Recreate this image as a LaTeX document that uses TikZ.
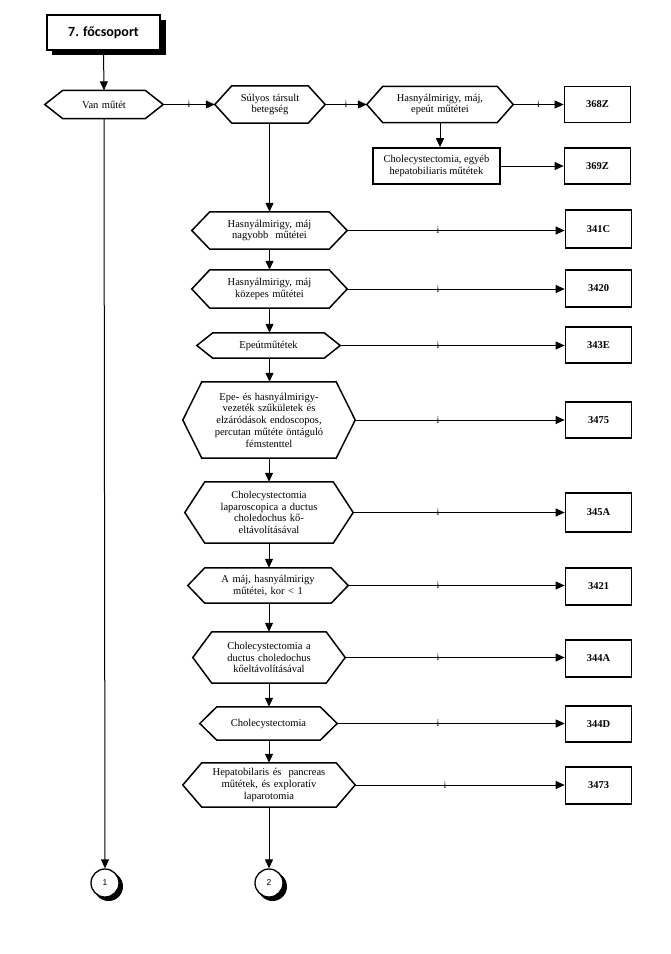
\documentclass[tikz,border=0pt]{standalone}
\usepackage{fontspec}
\setmainfont{Liberation Serif}
\newfontfamily\hdrfont{Carlito}
\newfontfamily\numfont{Liberation Sans}
\usetikzlibrary{arrows.meta,calc}
\tikzset{
  every picture/.style={x=1pt,y=-1pt},
  conn/.style={line width=1pt,-{Triangle[length=9pt,width=8pt]}},
  hexbody/.style={draw=none,inner sep=0pt,align=center,font=\fontsize{10.5}{11.7}\selectfont},
  hexline/.style={line width=1.5pt,line join=miter},
  codebox/.style={draw,line width=1.7pt,inner sep=0pt,minimum width=66pt,font=\bfseries\fontsize{10.5}{12}\selectfont},
  ilab/.style={inner sep=0pt,font=\fontsize{10}{10}\selectfont},
}
% \hexnode{name}{cx}{cy}{width}{height}{bevel}{text}
\newcommand\hexnode[7]{%
  \node[hexbody,minimum width=#4pt,minimum height=#5pt,text width=#4pt-2*#6pt] (#1) at (#2,#3) {#7};
  \draw[hexline] (#1.west) -- ([xshift=#6pt]#1.north west) -- ([xshift=-#6pt]#1.north east) -- (#1.east)
     -- ([xshift=-#6pt]#1.south east) -- ([xshift=#6pt]#1.south west) -- cycle;}
\begin{document}
\begin{tikzpicture}
\useasboundingbox (0,0) rectangle (671,954);
% header
\fill (52,20) rectangle (166,55);
\node[draw,fill=white,line width=1.5pt,minimum width=113pt,minimum height=35pt,inner sep=0pt,font=\hdrfont\bfseries\fontsize{14}{16}\selectfont] (hdr) at (103.5,32.5) {7. főcsoport};
% hexagons
\hexnode{van}{104}{104.5}{118}{28}{18}{Van műtét}
\hexnode{sul}{270}{104.5}{110}{37}{17}{Súlyos társult\\betegség}
\hexnode{hm}{440}{104.5}{146}{36}{16}{Hasnyálmirigy, máj,\\epeút műtétei}
\hexnode{h1}{269.5}{230.5}{155}{37}{18}{Hasnyálmirigy, máj\\nagyobb\ \ műtétei}
\hexnode{h2}{269.5}{289}{155}{38}{18}{Hasnyálmirigy, máj\\közepes műtétei}
\hexnode{h3}{268.5}{345.5}{143}{25}{16}{Epeútműtétek}
\hexnode{h4}{269}{420}{172}{76}{19}{Epe- és hasnyálmirigy-\\vezeték szűkületek és\\elzáródások endoscopos,\\percutan műtéte öntáguló\\fémstenttel}
\hexnode{h5}{269}{512.5}{168}{61}{20}{Cholecystectomia\\laparoscopica a ductus\\choledochus kő-\\eltávolításával}
\hexnode{h6}{268}{585.5}{160}{35}{17}{A máj, hasnyálmirigy\\műtétei, kor < 1}
\hexnode{h7}{269}{657.5}{152}{51}{19}{Cholecystectomia a\\ductus choledochus\\kőeltávolításával}
\hexnode{h8}{268.5}{723.5}{137}{33}{17}{Cholecystectomia}
\hexnode{h9}{269}{785}{172}{44}{19}{Hepatobilaris és\ \ pancreas\\műtétek, és exploratív\\laparotomia}
% plain box
\node[draw,line width=1.7pt,minimum width=127pt,minimum height=36pt,inner sep=0pt,align=center,font=\fontsize{10.5}{11.7}\selectfont] (chb) at (436.5,166) {Cholecystectomia, egyéb\\hepatobiliaris műtétek};
% code boxes
\node[codebox,minimum height=36pt] (c368) at (597.5,104.5) {368Z};
\node[codebox,minimum height=36pt] (c369) at (597.5,166) {369Z};
\node[codebox,minimum height=38pt] (c341) at (598.5,229) {341C};
\node[codebox,minimum height=37pt] (c3420) at (598.5,288.5) {3420};
\node[codebox,minimum height=36pt] (c343) at (598.5,345) {343E};
\node[codebox,minimum height=36pt] (c3475) at (598.5,420) {3475};
\node[codebox,minimum height=39pt] (c345) at (598.5,512.5) {345A};
\node[codebox,minimum height=37pt] (c3421) at (598.5,586.5) {3421};
\node[codebox,minimum height=37pt] (c344A) at (598.5,658.5) {344A};
\node[codebox,minimum height=36pt] (c344D) at (598.5,724) {344D};
\node[codebox,minimum height=37pt] (c3473) at (598.5,785.5) {3473};
% connector circles
\fill (108.5,886.5) circle (14.5);
\node[circle,draw,fill=white,line width=1.3pt,minimum size=28pt,inner sep=0pt,font=\numfont\fontsize{8.5}{9}\selectfont] (k1) at (105,883) {1};
\fill (272.5,886.5) circle (14.5);
\node[circle,draw,fill=white,line width=1.3pt,minimum size=28pt,inner sep=0pt,font=\numfont\fontsize{8.5}{9}\selectfont] (k2) at (269,883) {2};
% connectors
\draw[conn] (hdr.south) -- (van.north);
\draw[conn] (van.east) -- node[ilab]{i} (sul.west);
\draw[conn] (sul.east) -- node[ilab]{i} (hm.west);
\draw[conn] (hm.east) -- node[ilab]{i} (c368.west);
\draw[conn] (hm.south) -- (chb.north -| hm.south);
\draw[conn] (chb.east) -- (c369.west |- chb.east);
\draw[conn] (sul.south -| h1.north) -- (h1.north);
\draw[conn] (h1.south) -- (h2.north -| h1.south);
\draw[conn] (h2.south) -- (h3.north -| h2.south);
\draw[conn] (h3.south -| h2.south) -- (h4.north -| h2.south);
\draw[conn] (h4.south) -- (h5.north);
\draw[conn] (h5.south) -- (h6.north -| h5.south);
\draw[conn] (h6.south -| h5.south) -- (h7.north);
\draw[conn] (h7.south) -- (h8.north -| h7.south);
\draw[conn] (h8.south -| h7.south) -- (h9.north);
\draw[conn] (h9.south) -- (k2.north);
\draw[conn] (van.south) -- (k1.north);
\foreach \h/\c/\ix in {h1/c341/438,h2/c3420/438,h3/c343/438,h4/c3475/438,h5/c345/438,h6/c3421/438,h7/c344A/438,h8/c344D/438,h9/c3473/445}{
  \draw[conn] (\h.east) -- (\c.west |- \h.east);
  \node[ilab] at (\ix,0 |- \h.east) {i};
}
\end{tikzpicture}
\end{document}
